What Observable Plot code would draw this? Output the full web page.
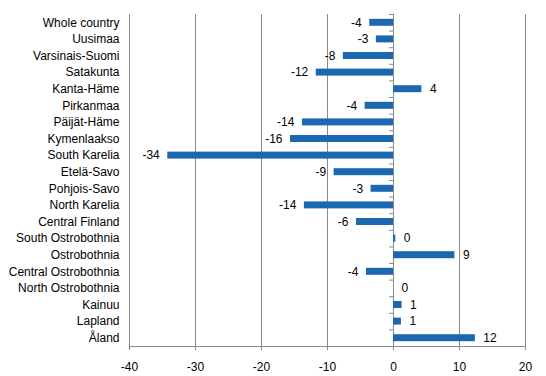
<!DOCTYPE html>
<html>
<head>
<meta charset="utf-8">
<script src="https://cdn.jsdelivr.net/npm/d3@7"></script>
<script src="https://cdn.jsdelivr.net/npm/@observablehq/plot@0.6"></script>
<style>
  html, body { margin: 0; padding: 0; background: #fff; }
  g[aria-label^="x-axis"] path, g[aria-label^="x-axis"] line { stroke: #888; }
</style>
</head>
<body>
<div id="chart"></div>
<script>
const categories = ["Whole country", "Uusimaa", "Varsinais-Suomi", "Satakunta", "Kanta-Häme", "Pirkanmaa", "Päijät-Häme", "Kymenlaakso", "South Karelia", "Etelä-Savo", "Pohjois-Savo", "North Karelia", "Central Finland", "South Ostrobothnia", "Ostrobothnia", "Central Ostrobothnia", "North Ostrobothnia", "Kainuu", "Lapland", "Åland"];
const values = [-3.6, -2.6, -7.6, -11.7, 4.3, -4.3, -13.8, -15.6, -34.2, -9.0, -3.4, -13.5, -5.6, 0.35, 9.3, -4.1, 0, 1.3, 1.2, 12.4];
const labels = ["-4", "-3", "-8", "-12", "4", "-4", "-14", "-16", "-34", "-9", "-3", "-14", "-6", "0", "9", "-4", "0", "1", "1", "12"];
const xTicks = [-40, -30, -20, -10, 0, 10, 20];

const data = categories.map((name, i) => ({name, value: values[i], label: labels[i]}));

const W = 546, H = 376;
const mTop = 14, mBottom = 30, mLeft = 129, mRight = 21;
const step = (H - mTop - mBottom) / categories.length;
const grid = "#8a8a8a";

const chart = Plot.plot({
  width: W,
  height: H,
  marginTop: mTop,
  marginBottom: mBottom,
  marginLeft: mLeft,
  marginRight: mRight,
  style: {fontFamily: "'Liberation Sans', Arial, sans-serif", fontSize: "12px", color: "#000", background: "#fff"},
  x: {domain: [-40, 20], ticks: xTicks, tickSize: 4, tickPadding: 12, tickFormat: d => String(d), label: null},
  y: {domain: categories, paddingInner: 0.58, paddingOuter: 0.29, round: false, tickSize: 0, tickPadding: 10, label: null},
  marks: [
    Plot.ruleX(xTicks, {stroke: grid, strokeWidth: 1}),
    Plot.ruleY(categories, {x1: -0.6, x2: 0, dy: -step / 2, stroke: grid}),
    Plot.ruleY([categories[categories.length - 1]], {dy: step / 2, stroke: grid}),
    Plot.barX(data, {y: "name", x1: 0, x2: "value", fill: "#1b67b0"}),
    Plot.text(data.filter(d => d.value < 0), {y: "name", x: "value", text: "label", textAnchor: "end", dx: -8, fill: "#000", fontSize: 12}),
    Plot.text(data.filter(d => d.value >= 0), {y: "name", x: "value", text: "label", textAnchor: "start", dx: 8, fill: "#000", fontSize: 12})
  ]
});
document.getElementById("chart").appendChild(chart);
</script>
</body>
</html>
